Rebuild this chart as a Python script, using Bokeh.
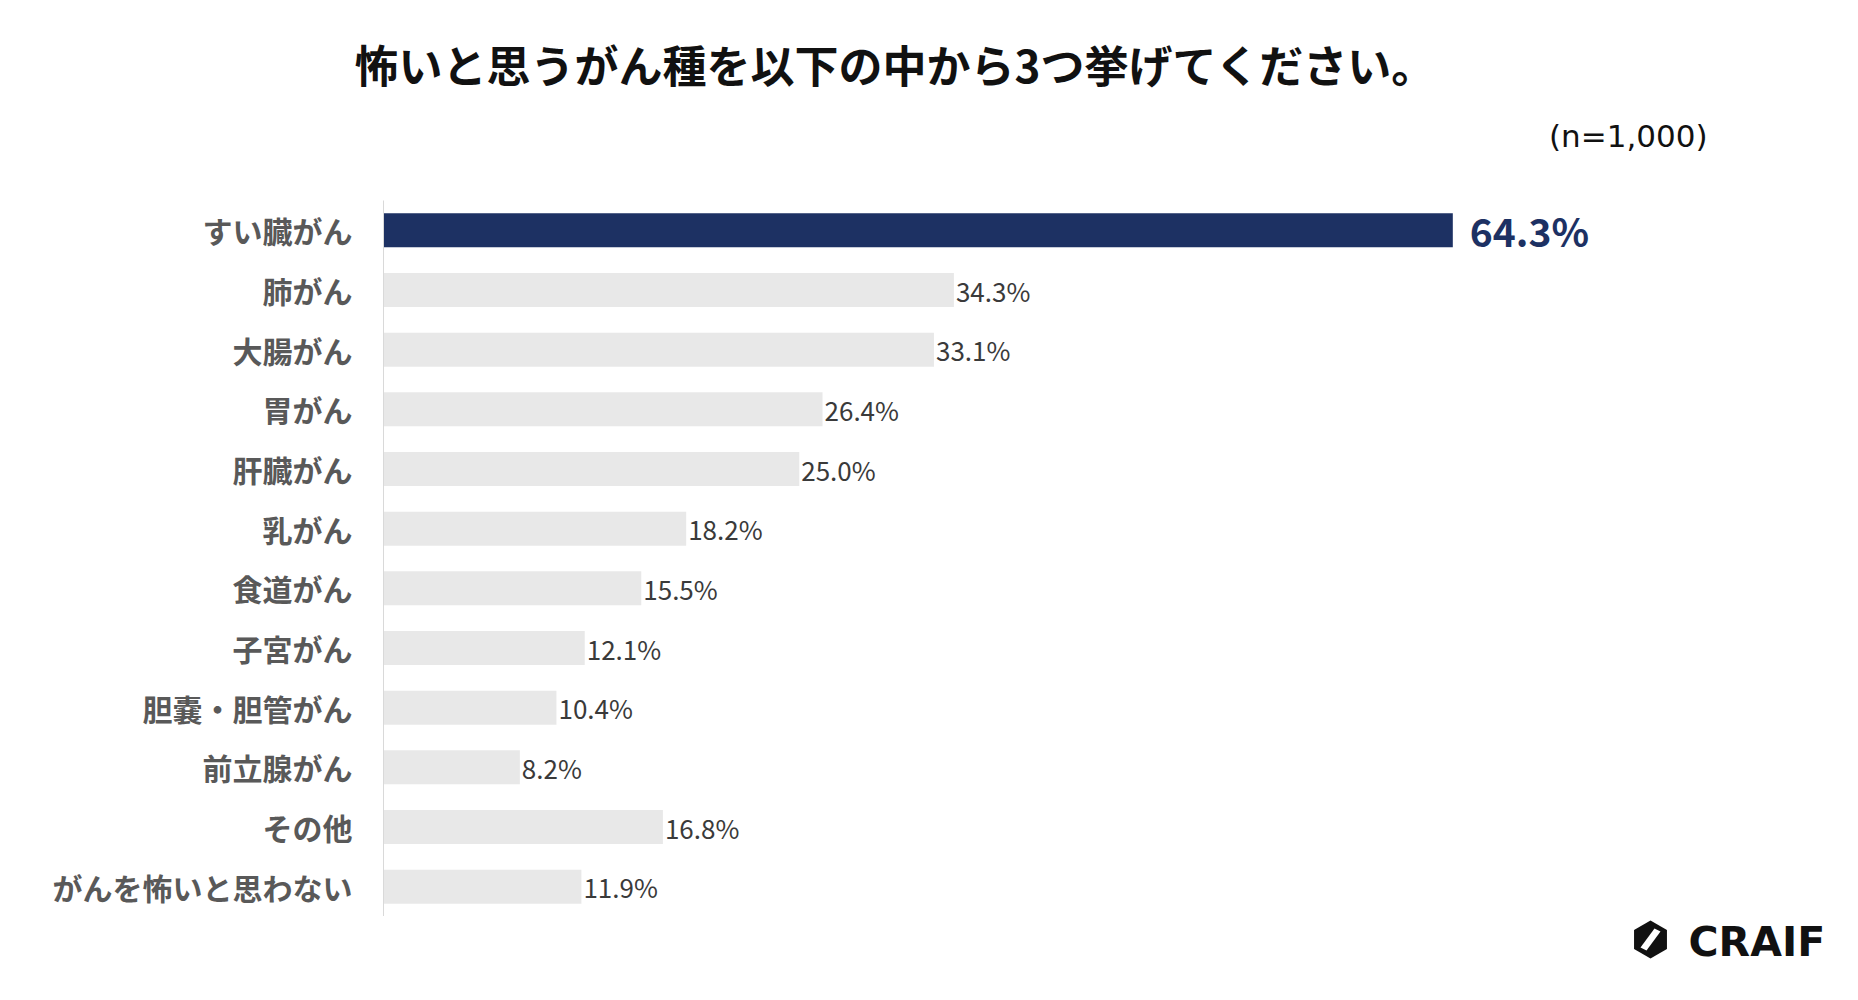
from bokeh.plotting import figure
from bokeh.layouts import column
from bokeh.models import ColumnDataSource, FactorRange, Range1d, Title
from bokeh.embed import file_html
from bokeh.resources import INLINE
from bokeh.core.properties import value
import math

categories = ["すい臓がん", "肺がん", "大腸がん", "胃がん", "肝臓がん", "乳がん",
              "食道がん", "子宮がん", "胆嚢・胆管がん", "前立腺がん", "その他",
              "がんを怖いと思わない"]
percentages = [64.3, 34.3, 33.1, 26.4, 25.0, 18.2, 15.5, 12.1, 10.4, 8.2, 16.8, 11.9]
value_labels = [f"{v:.1f}%" for v in percentages]
title_text = "怖いと思うがん種を以下の中から3つ挙げてください。"
sample_note = "(n=1,000)"
brand = "CRAIF"
highlight = "すい臓がん"

NAVY = "#1d3163"
GRAY_BAR = "#e8e8e8"
JP = "Noto Sans CJK JP"

W = 1842
LEFT, RIGHT_B = 383, 4
FRAME_W = W - LEFT - RIGHT_B
PX_PER_PCT = 16.63
H_TOP, H_FRAME, H_FOOT = 200, 716, 64

# ---- main bar chart ----
p = figure(width=W, height=H_TOP + H_FRAME, output_backend="svg",
           toolbar_location=None, title=None,
           y_range=FactorRange(*reversed(categories), range_padding=0),
           x_range=Range1d(0, FRAME_W / PX_PER_PCT),
           min_border_left=LEFT, min_border_right=RIGHT_B,
           min_border_top=H_TOP, min_border_bottom=0)
p.background_fill_color = "white"
p.border_fill_color = "white"
p.outline_line_color = None
p.xgrid.visible = False
p.ygrid.visible = False
p.xaxis.visible = False

# titles in the top panel (first added sits closest to the frame)
p.add_layout(Title(text=sample_note, align="right", offset=131, standoff=94,
                   text_font="DejaVu Sans", text_font_size="31px",
                   text_font_style="normal", text_color="#111111"), "above")
p.add_layout(Title(text=title_text, align="left", offset=-29, standoff=-54,
                   text_font=JP, text_font_size="44px",
                   text_font_style="bold", text_color="#111111"), "above")

colors = [NAVY if c == highlight else GRAY_BAR for c in categories]
src = ColumnDataSource(dict(cat=categories, val=percentages, color=colors))
p.hbar(y="cat", left=0, right="val", height=0.57, fill_color="color",
       line_color=None, source=src)

hi = [i for i, c in enumerate(categories) if c == highlight]
lo = [i for i, c in enumerate(categories) if c != highlight]
src_hi = ColumnDataSource(dict(cat=[categories[i] for i in hi],
                               val=[percentages[i] for i in hi],
                               label=[value_labels[i] for i in hi]))
src_lo = ColumnDataSource(dict(cat=[categories[i] for i in lo],
                               val=[percentages[i] for i in lo],
                               label=[value_labels[i] for i in lo]))
p.text(x="val", y="cat", text="label", source=src_lo, x_offset=2,
       text_align="left", text_baseline="middle", text_font=value(JP),
       text_font_size="26px", text_color="#3a3a3a")
p.text(x="val", y="cat", text="label", source=src_hi, x_offset=17,
       text_align="left", text_baseline="middle", text_font=value(JP),
       text_font_size="39px", text_font_style="bold", text_color=NAVY)

ax = p.yaxis[0]
ax.major_label_text_font = JP
ax.major_label_text_font_size = "30px"
ax.major_label_text_font_style = "bold"
ax.major_label_text_color = "#595959"
ax.major_tick_line_color = None
ax.minor_tick_line_color = None
ax.major_tick_in = 0
ax.major_tick_out = 0
ax.major_label_standoff = 31
ax.axis_line_color = "#d9d9d9"
ax.axis_line_width = 1

# ---- footer: logo (its frame is aligned with the chart frame above) ----
foot = figure(width=W, height=H_FOOT, output_backend="svg",
              toolbar_location=None, title=None,
              x_range=Range1d(LEFT, W - RIGHT_B), y_range=Range1d(H_FOOT, 0),
              min_border_left=LEFT, min_border_right=RIGHT_B,
              min_border_top=0, min_border_bottom=0)
foot.axis.visible = False
foot.grid.visible = False
foot.outline_line_color = None
foot.background_fill_color = "white"
foot.border_fill_color = "white"

cx, cy, r = 1650, 23, 19
hx = [cx + r * math.cos(math.radians(90 + 60 * k)) for k in range(6)]
hy = [cy + r * math.sin(math.radians(90 + 60 * k)) for k in range(6)]
foot.patch(x=hx, y=hy, fill_color="#111111", line_color=None)
foot.patch(x=[cx - 10, cx - 4, cx + 10, cx + 4],
           y=[cy + 8, cy + 11, cy - 8, cy - 11],
           fill_color="white", line_color=None)
foot.text(x=[1688], y=[25], text=[brand], text_align="left",
          text_baseline="middle", text_font=value("DejaVu Sans"),
          text_font_size="41px", text_font_style="bold", text_color="#111111")

layout = column(p, foot, spacing=0)
open("out.html", "w").write(file_html(layout, INLINE))
